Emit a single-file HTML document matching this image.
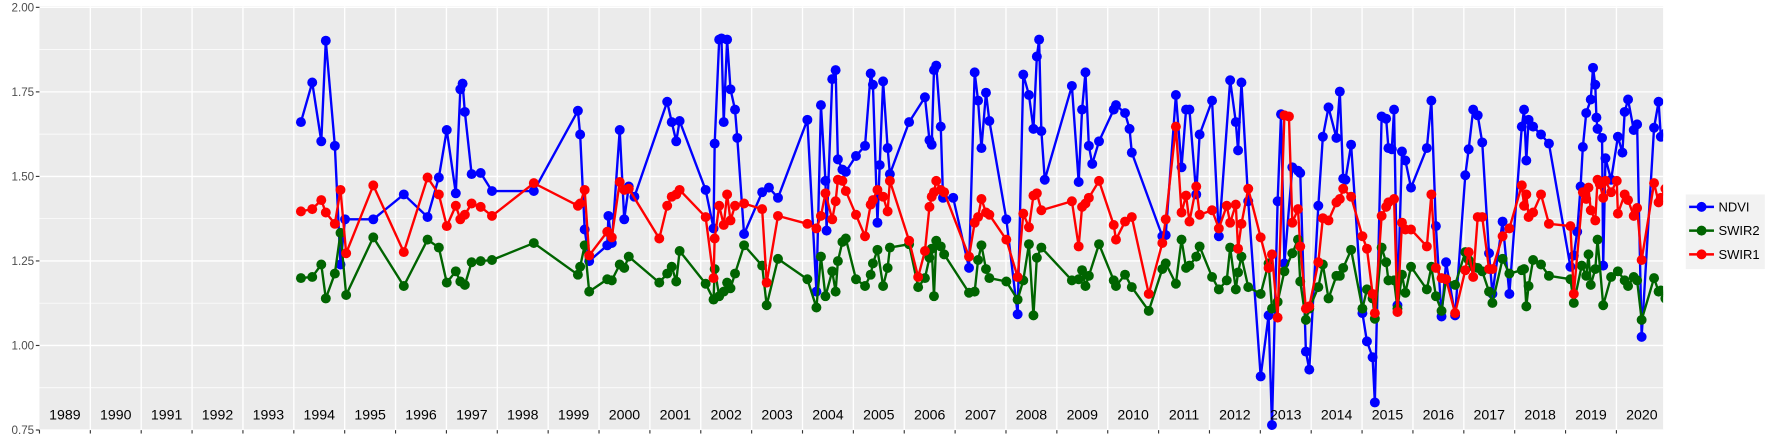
<!DOCTYPE html>
<html><head><meta charset="utf-8"><style>
html,body{margin:0;padding:0;background:#fff;}
svg{display:block;}
text{font-family:"Liberation Sans",sans-serif;}
</style></head><body>
<svg id="s" width="1773" height="442" viewBox="0 0 1568 391" xmlns="http://www.w3.org/2000/svg">
<rect x="34.7" y="5.5" width="1436.3" height="375" fill="#ebebeb"/>
<g id="grid"></g>
<g id="data"></g>
<g id="lab"></g>
<rect x="1491" y="172" width="70" height="66" fill="#f2f2f2"/>
<line x1="1494" y1="183" x2="1516" y2="183" stroke="#0000ff" stroke-width="2.2"/><circle cx="1505" cy="183" r="4.4" fill="#0000ff"/>
<line x1="1494" y1="204" x2="1516" y2="204" stroke="#006400" stroke-width="2.2"/><circle cx="1505" cy="204" r="4.4" fill="#006400"/>
<line x1="1494" y1="225" x2="1516" y2="225" stroke="#ff0000" stroke-width="2.2"/><circle cx="1505" cy="225" r="4.4" fill="#ff0000"/>
<text x="1520" y="187" font-size="11.5" fill="#000">NDVI</text>
<text x="1520" y="208" font-size="11.5" fill="#000">SWIR2</text>
<text x="1520" y="229" font-size="11.5" fill="#000">SWIR1</text>
</svg>
<script>
const NS="http://www.w3.org/2000/svg";
function el(p,t,a,txt){const e=document.createElementNS(NS,t);for(const k in a)e.setAttribute(k,a[k]);if(txt!==undefined)e.textContent=txt;p.appendChild(e);return e;}
const L=34.7,R=1471,T=5.5,B=380.5;
const yv=v=>6.5+(2-v)*(380.4-6.5)/1.25;
const g=document.getElementById('grid'),lb=document.getElementById('lab');
[1.875,1.625,1.375,1.125,0.875].forEach(v=>el(g,'line',{x1:L,x2:R,y1:yv(v),y2:yv(v),stroke:'#fff','stroke-width':0.6}));
[2,1.75,1.5,1.25,1,0.75].forEach(v=>{el(g,'line',{x1:L,x2:R,y1:yv(v),y2:yv(v),stroke:'#fff','stroke-width':1.2});
el(lb,'line',{x1:31.5,x2:34.7,y1:yv(v),y2:yv(v),stroke:'#333','stroke-width':1});
el(lb,'text',{x:30,y:yv(v)+3.7,'font-size':10.3,fill:'#4d4d4d','text-anchor':'end'},v.toFixed(2));});
for(let i=1;i<32;i++){const x=L+i*45;el(g,'line',{x1:x,x2:x,y1:T,y2:B,stroke:'#fff','stroke-width':1.2});el(lb,'line',{x1:x,x2:x,y1:B,y2:B+3,stroke:'#333','stroke-width':1});}
el(lb,'line',{x1:L,x2:L,y1:B,y2:B+3,stroke:'#333','stroke-width':1});
for(let i=0;i<32;i++){el(lb,'text',{x:L+i*45+22.5,y:371,'font-size':12.5,fill:'#000','text-anchor':'middle'},String(1989+i));}
const N="266,108;276,73;284,125;288,36;296,129;301,234;305,194;330,194;357,172;378,192;388,157;395,115;403,171;407,79;409,74;411,99;417,154;425,153;435,169;472,169;511,98;513,119;517,203;521,231;537,217;538,191;541,215;548,115;552,194;556,165;561,174;590,90;594,108;598,125;601,107;624,168;631,202;632,127;636,35;638,34;640,108;643,35;646,79;650,97;652,122;658,207;674,170;680,166;688,175;714,106;722,258;726,93;730,160;731,204;736,70;739,62;741,141;745,150;748,152;757,138;765,129;770,65;772,75;776,197;778,146;781,72;785,131;787,154;804,108;818,86;822,124;824,128;826,62;828,58;832,112;834,175;843,175;857,237;862,64;865,89;868,131;872,82;875,107;890,194;900,278;905,66;910,84;914,114;917,50;919,35;921,116;924,159;948,76;954,161;957,97;960,64;963,129;966,145;972,125;985,97;987,93;995,100;999,114;1001,135;1028,209;1031,208;1040,84;1045,148;1049,97;1052,97;1058,172;1061,119;1072,89;1078,209;1088,71;1093,108;1095,133;1098,73;1104,178;1115,333;1122,279;1125,376;1130,178;1133,101;1136,233;1143,148;1148,151;1150,153;1155,311;1158,327;1166,182;1170,121;1175,95;1182,122;1185,81;1188,158;1190,159;1195,128;1205,277;1209,302;1214,316;1216,356;1222,103;1226,105;1228,131;1231,132;1233,97;1236,270;1240,134;1243,142;1248,166;1262,131;1266,89;1270,200;1275,280;1279,232;1287,279;1296,155;1299,132;1303,97;1307,102;1311,126;1317,224;1320,260;1329,196;1335,260;1346,112;1348,97;1350,142;1352,106;1356,112;1363,119;1370,127;1389,236;1392,226;1395,205;1398,165;1400,130;1403,100;1407,88;1409,60;1411,75;1412,104;1413,114;1417,122;1418,235;1420,140;1425,159;1431,121;1435,135;1437,99;1440,88;1445,115;1448,110;1452,298;1463,113;1467,90;1469,121;1473,118";
const S2="266,246;276,245;284,234;288,264;296,242;301,206;306,261;330,210;357,253;378,212;388,219;395,250;403,240;407,249;411,252;417,232;425,231;435,230;472,215;511,243;513,236;517,217;521,258;537,247;541,248;548,234;552,237;556,227;583,250;590,242;594,236;598,249;601,222;624,251;631,265;632,238;636,262;640,258;643,250;646,255;650,242;658,217;674,235;678,270;688,229;714,247;722,272;726,227;730,262;736,240;739,258;741,231;745,214;748,211;757,247;765,253;770,243;772,233;776,221;781,253;785,237;787,219;804,216;812,254;818,246;822,228;824,220;826,262;828,213;832,218;835,225;857,259;862,258;865,230;868,217;872,238;875,246;890,249;900,265;905,248;910,216;914,279;917,228;921,219;948,248;954,247;957,239;960,253;963,244;972,216;985,248;987,253;995,243;1001,254;1016,275;1028,238;1031,233;1040,251;1045,212;1049,237;1052,235;1058,227;1061,218;1072,245;1078,256;1085,248;1088,219;1093,256;1095,241;1098,227;1104,254;1115,260;1122,233;1125,273;1130,267;1136,240;1143,224;1148,212;1150,249;1155,283;1158,273;1166,254;1170,234;1175,264;1182,244;1185,244;1188,237;1195,221;1205,273;1209,256;1214,264;1216,282;1222,219;1226,232;1228,248;1233,248;1236,273;1240,243;1243,259;1248,236;1262,256;1266,236;1270,262;1275,275;1279,247;1287,252;1296,223;1299,230;1303,236;1307,237;1311,240;1317,258;1320,268;1329,229;1335,242;1346,239;1348,238;1350,271;1352,253;1356,230;1363,234;1370,244;1389,247;1392,268;1399,235;1403,244;1405,225;1407,252;1411,238;1413,212;1418,270;1425,245;1431,240;1437,248;1440,253;1445,245;1448,248;1452,283;1463,246;1467,258;1469,257;1473,264";
const S1="266,187;276,185;284,177;288,188;296,198;301,168;306,224;330,164;357,223;378,157;388,172;395,200;403,182;407,194;411,190;417,180;425,183;435,191;472,162;511,182;513,180;517,168;521,226;537,205;541,210;548,161;552,168;556,167;583,211;590,182;594,174;598,172;601,168;624,192;631,246;632,211;636,182;640,199;643,172;646,195;650,182;658,180;674,185;678,250;688,191;714,198;722,202;726,191;730,171;736,194;739,178;741,159;745,160;748,169;757,190;765,209;770,181;772,177;776,168;781,174;785,187;787,160;804,213;812,245;818,222;822,183;824,174;826,170;828,160;832,168;835,170;857,227;862,197;865,192;868,176;872,188;875,190;890,212;900,245;905,189;910,201;914,173;917,171;921,186;948,178;954,218;957,183;960,180;963,175;972,160;985,199;987,212;995,196;1001,192;1016,260;1028,215;1031,194;1040,112;1045,188;1049,173;1052,196;1058,165;1061,190;1072,186;1078,202;1085,182;1088,197;1093,181;1095,220;1098,198;1104,167;1115,210;1122,237;1125,225;1130,281;1136,102;1140,103;1143,197;1148,185;1150,218;1155,273;1158,271;1166,232;1170,193;1175,195;1182,179;1185,176;1188,167;1195,174;1205,209;1209,220;1214,260;1216,277;1222,191;1226,183;1228,179;1233,176;1236,276;1240,197;1243,203;1248,203;1262,218;1266,172;1270,237;1275,246;1279,247;1287,277;1296,239;1299,223;1303,245;1307,192;1311,192;1317,238;1320,238;1329,209;1335,202;1346,164;1348,182;1350,172;1352,192;1356,188;1363,172;1370,198;1389,200;1392,260;1400,170;1403,176;1405,166;1407,186;1411,195;1413,159;1415,163;1418,175;1420,160;1425,170;1430,160;1431,189;1437,172;1440,177;1445,191;1448,184;1452,230;1463,162;1467,179;1469,175;1473,167";
const d=document.getElementById('data');
const clip=el(document.getElementById('s'),'clipPath',{id:'cp'});el(clip,'rect',{x:L,y:T,width:R-L,height:B-T});
d.setAttribute('clip-path','url(#cp)');
[[N,'#0000ff'],[S2,'#006400'],[S1,'#ff0000']].forEach(([str,c])=>{
const pts=str.split(';').map(p=>p.split(',').map(Number));
el(d,'polyline',{points:pts.map(p=>p.join(',')).join(' '),fill:'none',stroke:c,'stroke-width':2.1,'stroke-linejoin':'round'});
pts.forEach(p=>el(d,'circle',{cx:p[0],cy:p[1],r:4.4,fill:c}));});
</script>
</body></html>
